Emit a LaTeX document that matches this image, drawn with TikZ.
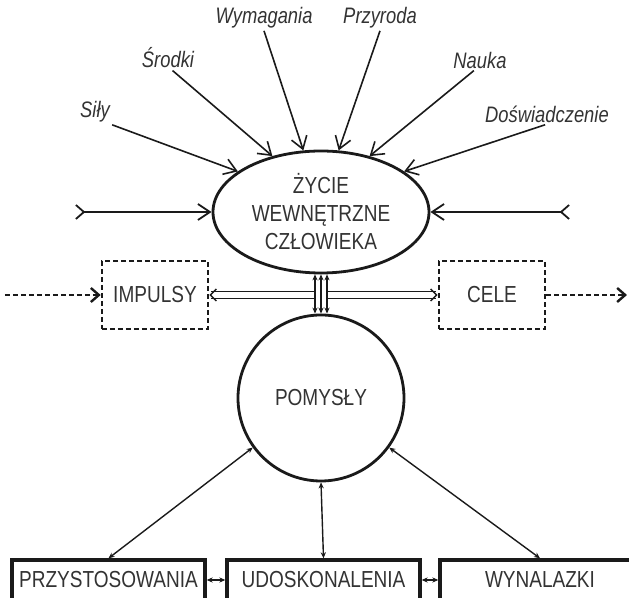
\documentclass[tikz,border=0pt]{standalone}
\usepackage{fontspec}
\setmainfont{Liberation Sans}[FakeStretch=0.82]
\usetikzlibrary{positioning,arrows.meta,shapes.geometric}
\definecolor{ink}{HTML}{1A1A1A}
\definecolor{inkText}{HTML}{333333}

\begin{document}
\begin{tikzpicture}[x=0.5pt,y=-0.5pt,
    font=\fontsize{11.6}{14}\selectfont,
    every node/.style={text=inkText},
    factor/.style={font=\fontsize{11.2}{13}\selectfont\itshape,inner sep=1pt},
    inflow/.style={-{Straight Barb[length=6pt,width=8pt,line width=0.8pt]},line width=0.8pt,draw=ink},
    sidein/.style={{Straight Barb[reversed,length=4pt,width=7pt]}-{Straight Barb[length=6pt,width=8pt]},line width=0.9pt,draw=ink},
    sidebox/.style={draw=ink,dash pattern=on 2.4pt off 1.6pt,line width=1.3pt,minimum width=53pt,minimum height=34pt},
    resultbox/.style={draw=ink,line width=1.7pt,minimum width=96.5pt,minimum height=20pt},
    twoway/.style={{Stealth[length=3pt,width=2.6pt]}-{Stealth[length=3pt,width=2.6pt]},line width=0.7pt,draw=ink}]
  \useasboundingbox (0,0) rectangle (629,598);

  % centre: inner life and ideas
  \node[ellipse,draw=ink,line width=1.4pt,minimum width=108pt,minimum height=61pt,
        inner sep=0pt,align=center] (zycie) at (321,212) {ŻYCIE\\WEWNĘTRZNE\\CZŁOWIEKA};
  \node[circle,draw=ink,line width=1.4pt,minimum size=83pt,inner sep=0pt] (pomysly) at (321,398) {POMYSŁY};
  \node[sidebox] (impulsy) at (155,295) {IMPULSY};
  \node[sidebox] (cele) at (492,295) {CELE};

  % factors around the ellipse
  \node[factor] (sily) at (95,112) {Siły};
  \node[factor] (srodki) at (168,58) {Środki};
  \node[factor] (wymagania) at (264,18) {Wymagania};
  \node[factor] (przyroda) at (380,18) {Przyroda};
  \node[factor] (nauka) at (480,60) {Nauka};
  \node[factor] (doswiadczenie) at (547,114) {Doświadczenie};
  \draw[inflow] (sily.south east) -- (zycie.154);
  \draw[inflow] (srodki.-70) -- (zycie.131);
  \draw[inflow] (wymagania.south) -- (zycie.106);
  \draw[inflow] (przyroda.south) -- (zycie.74);
  \draw[inflow] (nauka.-120) -- (zycie.49);
  \draw[inflow] (doswiadczenie.-100) -- (zycie.26);

  \coordinate (inL) at (75,212);
  \coordinate (inR) at (570,212);
  \draw[sidein] (inL) -- (zycie.west);
  \draw[sidein] (inR) -- (zycie.east);

  % impulses and goals
  \coordinate (outL) at (5,295);
  \coordinate (outR) at (627,295);
  \draw[draw=ink,line width=1.2pt,dash pattern=on 2.4pt off 1.6pt,-{Straight Barb[length=4pt,width=7pt]}] (outL) -- (impulsy.west);
  \draw[draw=ink,line width=1.2pt,dash pattern=on 2.4pt off 1.6pt,-{Straight Barb[length=4pt,width=7pt]}] (cele.east) -- (outR);

  \coordinate (hl) at (314,295);
  \coordinate (hr) at (328,295);
  \draw[draw=ink,line width=0.7pt,double,double distance=2.6pt,{Straight Barb[length=3pt,width=6pt]}-] (impulsy.east) -- (hl);
  \draw[draw=ink,line width=0.7pt,double,double distance=2.6pt,-{Straight Barb[length=3pt,width=6pt]}] (hr) -- (cele.west);
  \foreach \dx in {-3pt,0pt,3pt}
    \draw[twoway] ([xshift=\dx]zycie.south) -- ([xshift=\dx]pomysly.north);

  % results
  \node[resultbox] (przystosowania) at (108.5,580) {PRZYSTOSOWANIA};
  \node[resultbox] (udoskonalenia) at (323.5,580) {UDOSKONALENIA};
  \node[resultbox,minimum width=100pt] (wynalazki) at (540,580) {WYNALAZKI};
  \draw[twoway] (pomysly.216) -- (przystosowania.north);
  \draw[twoway] (pomysly.south) -- (udoskonalenia.north);
  \draw[twoway] (pomysly.-36) -- (wynalazki.north);
  \draw[twoway] (przystosowania) -- (udoskonalenia);
  \draw[twoway] (udoskonalenia) -- (wynalazki);
\end{tikzpicture}
\end{document}
